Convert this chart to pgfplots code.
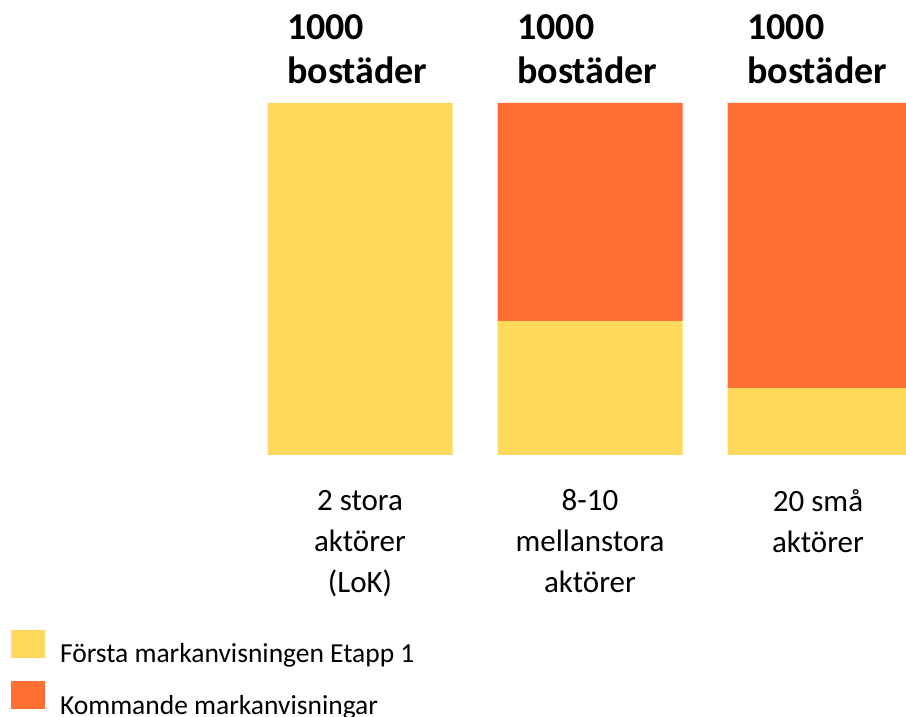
\documentclass[border=0pt]{standalone}
\usepackage{fontspec}
\setmainfont{Carlito}
\usepackage{pgfplots}
\pgfplotsset{compat=1.18}
\definecolor{gul}{HTML}{FFD95C}
\definecolor{ora}{HTML}{FF6F33}
\begin{document}
\begin{tikzpicture}
\useasboundingbox (0pt,-262pt) rectangle (906pt,455pt);
\begin{axis}[
  at={(0pt,0pt)}, anchor=south west, scale only axis,
  width=906pt, height=352pt,
  xmin=-1.5652, xmax=2.3739, ymin=0, ymax=1000,
  hide axis, ybar stacked, bar width=185pt, clip mode=individual,
  legend cell align=left,
  legend image code/.code={\fill[#1] (0pt,-4pt) rectangle (34pt,24pt);},
  legend style={draw=none, fill=none, at={(rel axis cs:0.01214,-0.4972)},
    anchor=north west, inner sep=0pt, outer sep=0pt,
    font=\fontsize{27.5}{32}\selectfont, row sep=17pt, column sep=15pt,
    nodes={inner sep=0pt, outer sep=0pt}},
]
\addplot[fill=gul, draw=none] coordinates {(0,1000) (1,380) (2,190)};
\addlegendentry{Första markanvisningen Etapp 1}
\addplot[fill=ora, draw=none] coordinates {(0,0) (1,620) (2,810)};
\addlegendentry{Kommande markanvisningar}
\foreach \i in {0,1,2}{
  \edef\tmp{\noexpand\node[anchor=base west, inner sep=0pt, font=\noexpand\fontsize{38}{44}\noexpand\bfseries\noexpand\selectfont, xshift=-73pt, yshift=63pt] at (axis cs:\i,1000) {1000};
  \noexpand\node[anchor=base west, inner sep=0pt, font=\noexpand\fontsize{38}{44}\noexpand\bfseries\noexpand\selectfont, xshift=-73pt, yshift=19pt] at (axis cs:\i,1000) {bostäder};}
  \tmp
}
\node[anchor=base, align=center, inner sep=0pt, font=\fontsize{31}{41}\selectfont, yshift=-137pt] at (axis cs:0,0) {2 stora\\aktörer\\(LoK)};
\node[anchor=base, align=center, inner sep=0pt, font=\fontsize{31}{41}\selectfont, yshift=-137pt] at (axis cs:1,0) {8-10\\mellanstora\\aktörer};
\node[anchor=base, align=center, inner sep=0pt, font=\fontsize{31}{41}\selectfont, yshift=-97pt, xshift=-2pt] at (axis cs:2,0) {20 små\\aktörer};
\end{axis}
\end{tikzpicture}
\end{document}
